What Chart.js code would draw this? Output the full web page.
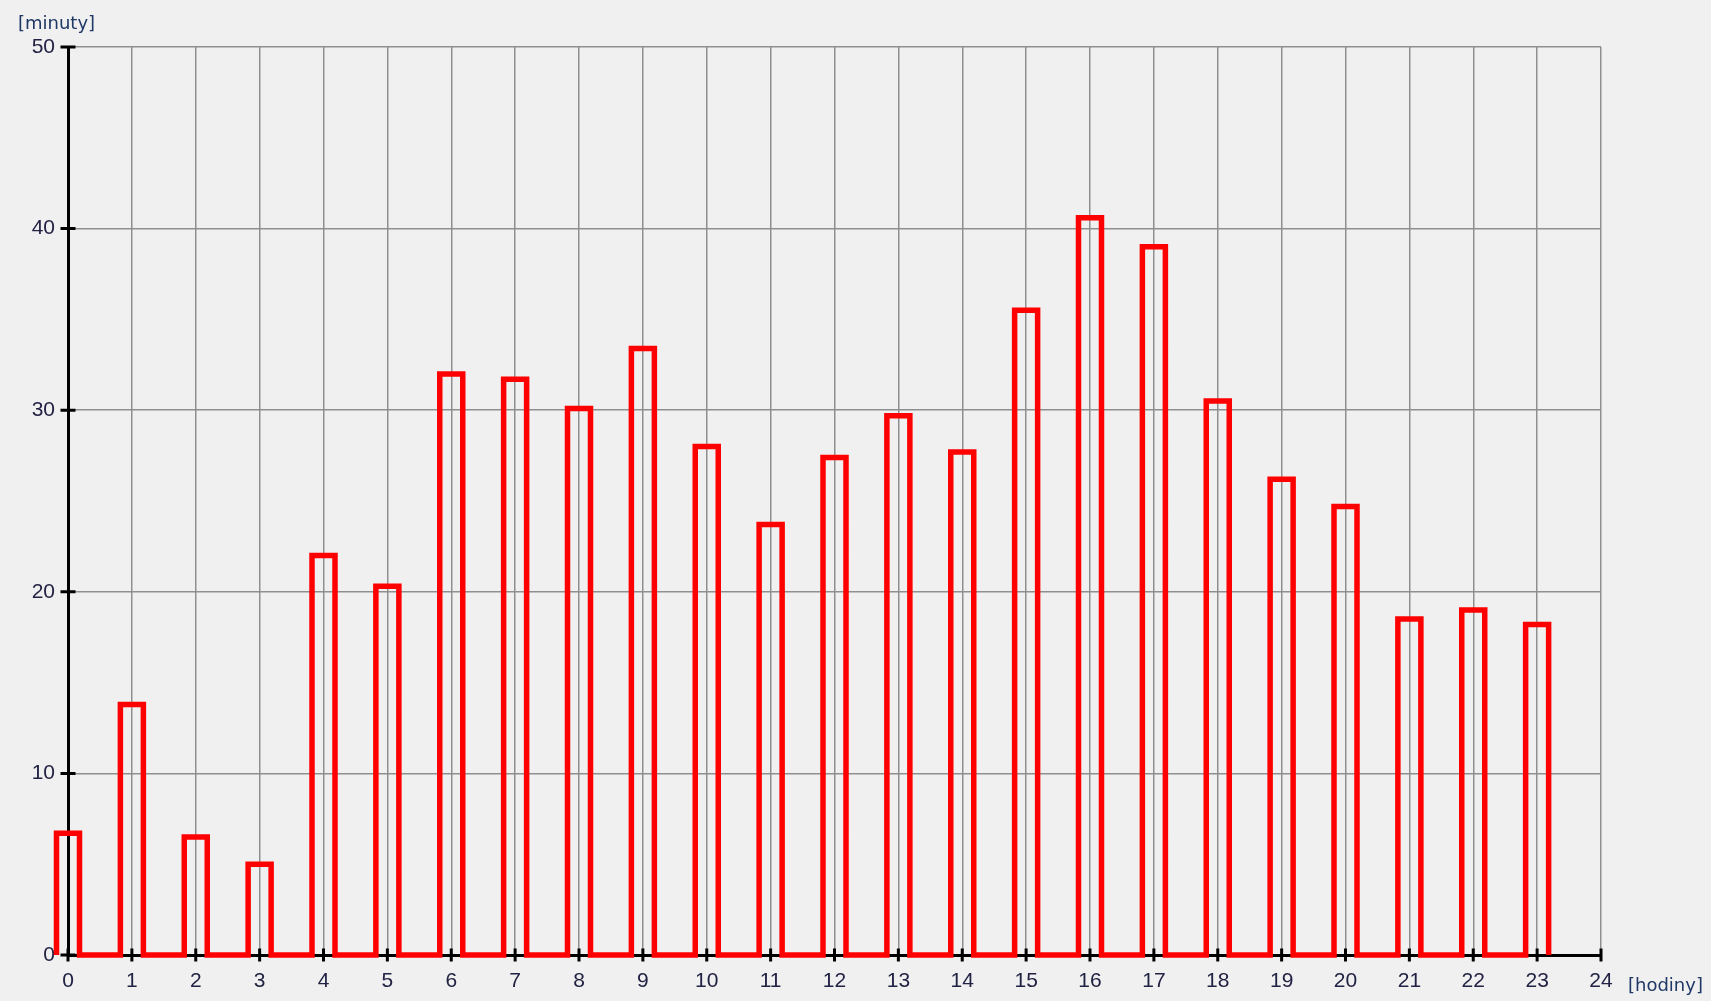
<!DOCTYPE html>
<html><head><meta charset="utf-8">
<script src="https://cdn.jsdelivr.net/npm/chart.js@4/dist/chart.umd.min.js"></script>
<style>
html,body{margin:0;padding:0;background:#f0f0f0;overflow:hidden}
#wrap{position:relative;width:1711px;height:1001px;background:#f0f0f0}
</style></head>
<body><div id="wrap"><canvas id="c" width="1711" height="1001"></canvas></div>
<script>
// ---- data ----
const hours = [0,1,2,3,4,5,6,7,8,9,10,11,12,13,14,15,16,17,18,19,20,21,22,23];
const minutes = [6.7,13.8,6.5,5.0,22.0,20.3,32.0,31.7,30.1,33.4,28.0,23.7,27.4,29.7,27.7,35.5,40.6,39.0,30.5,26.2,24.7,18.5,19.0,18.2];
const xTicks = [0,1,2,3,4,5,6,7,8,9,10,11,12,13,14,15,16,17,18,19,20,21,22,23,24];
const yTicks = [0,10,20,30,40,50];
const xUnit = '[hodiny]';
const yUnit = '[minuty]';

// ---- style ----
const halfW = 0.18;
const FONT = {family: '"Liberation Sans", Arial, sans-serif', size: 21};
const UNIT_FONT = '18px "DejaVu Sans", sans-serif';
const TXT = '#222244';
const UNIT = '#1f3866';

const points = [];
hours.forEach((h, i) => {
  points.push({x: h - halfW, y: 0});
  points.push({x: h - halfW, y: minutes[i]});
  points.push({x: h + halfW, y: minutes[i]});
  points.push({x: h + halfW, y: 0});
});

const crossTicks = {
  id: 'crossTicks',
  beforeDatasetsDraw(chart) {
    const {ctx, scales: {x, y}} = chart;
    const x0 = x.getPixelForValue(0), y0 = y.getPixelForValue(0);
    ctx.save();
    ctx.strokeStyle = '#000';
    ctx.lineWidth = 3;
    ctx.beginPath();
    xTicks.forEach(v => { const px = x.getPixelForValue(v); ctx.moveTo(px, y0 - 6.5); ctx.lineTo(px, y0 + 6.5); });
    yTicks.forEach(v => { const py = y.getPixelForValue(v); ctx.moveTo(x0 - 7.5, py); ctx.lineTo(x0 + 7.5, py); });
    ctx.stroke();
    ctx.restore();
  },
  afterDraw(chart) {
    const {ctx, scales: {x}} = chart;
    ctx.save();
    ctx.font = UNIT_FONT;
    ctx.fillStyle = UNIT;
    ctx.textBaseline = 'alphabetic';
    ctx.textAlign = 'left';
    ctx.fillText(yUnit, 18, 29);
    ctx.fillText(xUnit, x.getPixelForValue(24) + 27, 991);
    ctx.restore();
  }
};

const xRange = [0, 24];
const yRange = [0, 50];

new Chart(document.getElementById('c'), {
  type: 'scatter',
  data: {datasets: [{
    data: points, showLine: true, borderColor: '#ff0000', backgroundColor: '#ff0000',
    borderWidth: 5.5, pointRadius: 0, tension: 0, fill: false, clip: false,
    borderJoinStyle: 'miter'
  }]},
  options: {
    responsive: false, animation: false, devicePixelRatio: 1,
    layout: {padding: {top: 47, right: 110, left: 0, bottom: 0}},
    plugins: {legend: {display: false}, tooltip: {enabled: false}},
    scales: {
      x: {
        type: 'linear', bounds: 'data',
        afterDataLimits: s => { s.min = xRange[0]; s.max = xRange[1]; },
        afterBuildTicks: s => { s.min = xRange[0]; s.max = xRange[1]; s.ticks = xTicks.map(v => ({value: v})); },
        afterFit: s => { s.height = 46; },
        grid: {color: '#8f8f8f', lineWidth: 1.5, drawTicks: false},
        border: {color: '#000', width: 3},
        ticks: {padding: 14, font: FONT, color: TXT, maxRotation: 0, autoSkip: false}
      },
      y: {
        type: 'linear', bounds: 'data',
        afterDataLimits: s => { s.min = yRange[0]; s.max = yRange[1]; },
        afterBuildTicks: s => { s.min = yRange[0]; s.max = yRange[1]; s.ticks = yTicks.map(v => ({value: v})); },
        afterFit: s => { s.width = 68; },
        grid: {color: '#8f8f8f', lineWidth: 1.5, drawTicks: false},
        border: {color: '#000', width: 3},
        ticks: {padding: 13, font: FONT, color: TXT}
      }
    }
  },
  plugins: [crossTicks]
});
</script>
</body></html>
